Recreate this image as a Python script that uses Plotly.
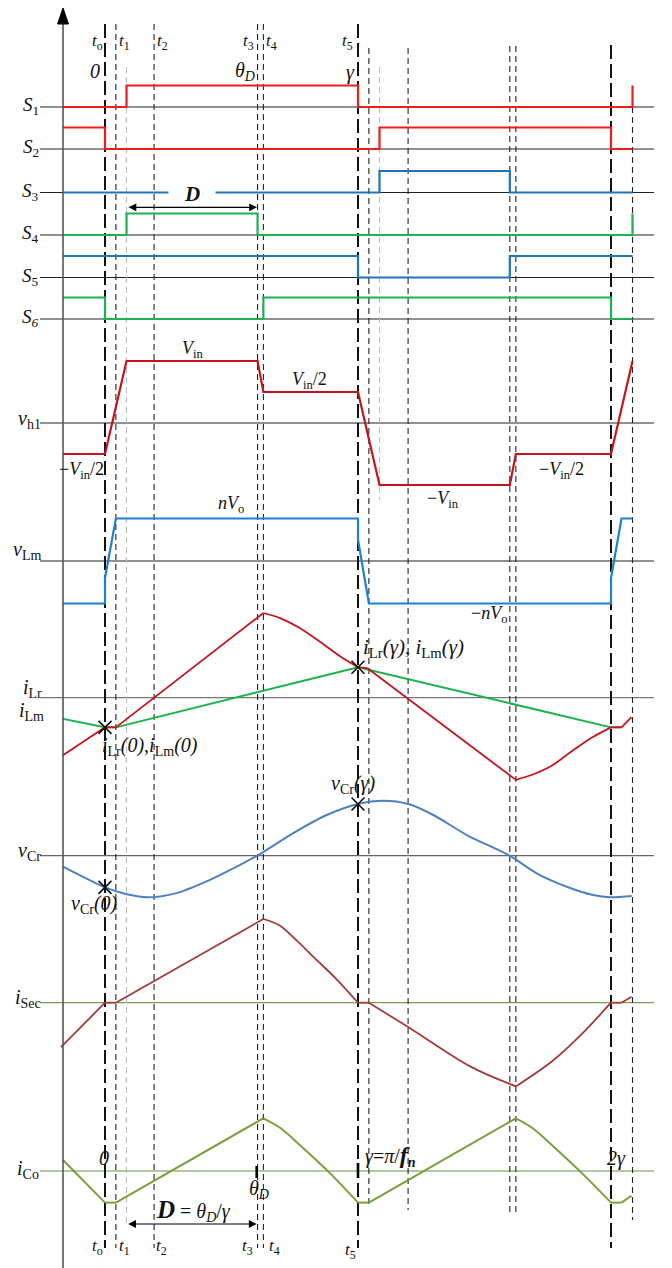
import plotly.graph_objects as go

# ---------------- time instants (angle normalised by gamma, t0 = 0, t5 = gamma) ----------------
T_AXIS = -0.166
t0, t1, t1g, t2, t3, t4, t5 = 0.0, 0.043, 0.085, 0.194, 0.603, 0.626, 1.0
t6, t6g, t7, t8, t9, t10, t10b, t11 = 1.043, 1.085, 1.198, 1.600, 1.624, 2.0, 2.0415, 2.085

# ---------------- gate signals (0 = off, 1 = on) ----------------
S1_t = [T_AXIS, t1g, t1g, t5, t5, t11, t11]
S1_v = [0, 0, 1, 1, 0, 0, 1]
S2_t = [T_AXIS, t0, t0, t6g, t6g, t10, t10, t11]
S2_v = [1, 1, 0, 0, 1, 1, 0, 0]
S3_t = [T_AXIS, t6g, t6g, t8, t8, t11]
S3_v = [0, 0, 1, 1, 0, 0]
S4_t = [T_AXIS, t1g, t1g, t3, t3, t11, t11]
S4_v = [0, 0, 1, 1, 0, 0, 1]
S5_t = [T_AXIS, t5, t5, t8, t8, t11]
S5_v = [1, 1, 0, 0, 1, 1]
S6_t = [T_AXIS, t0, t0, t4, t4, t10, t10, t11]
S6_v = [1, 1, 0, 0, 1, 1, 0, 0]

# ---------------- voltages (per unit of Vin and nVo) ----------------
vh1_t = [T_AXIS, t0, t1g, t3, t4, t5, t6g, t8, t9, t10, t11]
vh1_v = [-0.5, -0.5, 1, 1, 0.5, 0.5, -1, -1, -0.5, -0.5, 1]
vLm_t = [T_AXIS, t0, t0, t1, t5, t5, t6, t10, t10, t10b, t11]
vLm_v = [-1, -1, -0.4, 1, 1, 0.5, -1, -1, -0.4, 1, 1]

# ---------------- currents / resonant voltage (per unit of own peak) ----------------
iLr_t = [T_AXIS, t0, t1, t4, 0.692, 0.771, 0.850, 0.929, t5, 1.036, t9, 1.688, 1.767, 1.846, 1.925, t10, t10b, 2.081]
iLr_v = [-0.68, -0.35, -0.35, 1.0, 0.94, 0.82, 0.66, 0.49, 0.36, 0.35, -0.97, -0.91, -0.80, -0.63, -0.47, -0.35, -0.35, -0.23]
iLm_t = [T_AXIS, t0, t1, t5, t10, t10b]
iLm_v = [-0.25, -0.35, -0.35, 0.36, -0.35, -0.35]

vCr_t = [T_AXIS, t0, 0.086, 0.170, 0.283, 0.415, 0.520, 0.606, 0.744, 0.876, t5, 1.100, 1.199, 1.298, 1.430, 1.601, 1.706, 1.825, 1.930, 1.996, 2.082]
vCr_v = [-0.20, -0.575, -0.70, -0.756, -0.68, -0.44, -0.20, 0.01, 0.41, 0.74, 0.94, 1.0, 0.94, 0.74, 0.376, -0.005, -0.32, -0.564, -0.715, -0.756, -0.733]

iSec_t = [-0.174, t0, t1, t4, 0.692, 0.755, 0.830, 0.909, t5, t6, t7, 1.449, t9, 1.771, 1.889, t10, t10b, 2.081]
iSec_v = [-0.53, 0, 0, 1.0, 0.92, 0.75, 0.53, 0.30, 0, 0, -0.29, -0.77, -1.0, -0.69, -0.36, 0, 0, 0.07]

iCo_t = [T_AXIS, t0, t1, t4, 0.692, 0.771, 0.889, t5, t6, t9, 1.688, 1.767, 1.885, t10, t10b, 2.081]
iCo_v = [0.21, -0.60, -0.60, 1.0, 0.82, 0.49, -0.04, -0.60, -0.60, 1.0, 0.82, 0.49, -0.04, -0.60, -0.60, -0.47]

# switching instants where the current waveforms have corners
CORNERS = [t0, t1, t4, t5, 1.036, t6, t9, t10, t10b]

# ---------------- page layout ----------------
PAGE_W, PAGE_H = 672, 1268
OFF = 8                                  # default body margin of the html page
FIG_W, FIG_H = PAGE_W - 2 * OFF, PAGE_H - OFF
PX0, PXG = 105.0, 253.0                  # page position of t0 and page width of gamma


def X(px):
    return (px - PX0) / PXG


ROWS = {
    "S1": (107, 21.5), "S2": (149, 21.5), "S3": (192.5, 21.5), "S4": (235, 21.5),
    "S5": (277.5, 21.5), "S6": (319, 21.5),
    "vh1": (423, 62), "vLm": (561, 42.5), "iL": (697.7, 84.7),
    "vCr": (855.7, 55), "iSec": (1002.7, 83.7), "iCo": (1171, 52.7),
}


def ry(row, vals):
    b, g = ROWS[row]
    return [b - g * v for v in vals]


RED, BLUE, GREEN = "#f01c1c", "#1f73bf", "#1fb04f"
DRED, LBLUE, VBLUE, LGREEN = "#c3141c", "#1f80d2", "#4f80c0", "#19b14c"
BROWN, OLIVE = "#a33b36", "#78a03c"

fig = go.Figure()


def add(t, y, color, w=2.0):
    fig.add_trace(go.Scatter(x=t, y=y, mode="lines", line=dict(color=color, width=w),
                             hoverinfo="skip", showlegend=False))


def add_smooth(t, y, color, w=1.9):
    """draw piecewise: split at the corner instants, smooth each piece"""
    cut = [0] + [i for i, tt in enumerate(t) if tt in CORNERS and 0 < i < len(t) - 1] + [len(t) - 1]
    for a, b in zip(cut[:-1], cut[1:]):
        fig.add_trace(go.Scatter(x=t[a:b + 1], y=y[a:b + 1], mode="lines",
                                 line=dict(color=color, width=w, shape="spline", smoothing=0.9),
                                 hoverinfo="skip", showlegend=False))


add(S1_t, ry("S1", S1_v), RED, 2.2)
add(S2_t, ry("S2", S2_v), RED, 2.2)
add(S3_t, ry("S3", S3_v), BLUE, 2.2)
add(S4_t, ry("S4", S4_v), GREEN, 2.2)
add(S5_t, ry("S5", S5_v), BLUE, 2.2)
add(S6_t, ry("S6", S6_v), GREEN, 2.2)
add(vh1_t, ry("vh1", vh1_v), DRED, 2.2)
add(vLm_t, ry("vLm", vLm_v), LBLUE, 2.2)
add(iLm_t, ry("iL", iLm_v), LGREEN, 2.0)
add_smooth(iLr_t, ry("iL", iLr_v), DRED, 1.8)
fig.add_trace(go.Scatter(x=vCr_t, y=ry("vCr", vCr_v), mode="lines",
                         line=dict(color=VBLUE, width=2.0, shape="spline", smoothing=0.8),
                         hoverinfo="skip", showlegend=False))
add_smooth(iSec_t, ry("iSec", iSec_v), BROWN, 1.8)
add_smooth(iCo_t, ry("iCo", iCo_v), OLIVE, 2.0)

# crossing markers taken from the curves at t0 and gamma
cx = [t0, t5, t5, t0]
cy = [ry("iL", [iLr_v[iLr_t.index(t0)]])[0], ry("iL", [iLr_v[iLr_t.index(t5)]])[0],
      ry("vCr", [vCr_v[vCr_t.index(t5)]])[0], ry("vCr", [vCr_v[vCr_t.index(t0)]])[0]]
fig.add_trace(go.Scatter(x=cx, y=cy, mode="markers",
                         marker=dict(symbol="x-thin", size=13, line=dict(color="#111", width=1.6)),
                         hoverinfo="skip", showlegend=False))

shapes = []
# baselines
BASE_COL = {"iL": "#777777", "vCr": "#666666", "iSec": "#7a9a5a", "iCo": "#6e8b4e"}
for k, (b, g) in ROWS.items():
    shapes.append(dict(type="line", xref="x", yref="y", x0=X(40), x1=X(654), y0=b, y1=b,
                       line=dict(color=BASE_COL.get(k, "#222222"), width=1.2), layer="below"))

# vertical dashed time markers: (t, top, bottom, style)
LONG = dict(color="#111", width=2.0, dash="14px,5px")
SHORT = dict(color="#222", width=1.1, dash="6px,4px")
GRAY = dict(color="#bdbdbd", width=1.1, dash="6px,4px")
vlines = [(t0, 24, 1248, LONG), (t1, 24, 1248, SHORT), (t1g, 67, 1227, GRAY), (t2, 24, 1248, SHORT),
          (t3, 24, 1248, SHORT), (t4, 24, 1248, SHORT), (t5, 24, 1248, LONG), (t6, 48, 1208, SHORT),
          (t6g, 67, 500, GRAY), (t7, 48, 1210, SHORT), (t8, 46, 1215, SHORT), (t9, 46, 1215, SHORT),
          (t10, 45, 1248, LONG), (t11, 107, 1220, SHORT)]
for t, a, b, st in vlines:
    shapes.append(dict(type="line", xref="x", yref="y", x0=t, x1=t, y0=a, y1=b, line=st, layer="below"))

# vertical axis with arrow head
shapes.append(dict(type="line", xref="x", yref="y", x0=T_AXIS, x1=T_AXIS, y0=20, y1=PAGE_H,
                   line=dict(color="#555555", width=1.6)))
shapes.append(dict(type="path", xref="x", yref="y",
                   path=f"M {T_AXIS} 8 L {X(57.5)} 24 L {X(68.5)} 24 Z",
                   fillcolor="#000", line=dict(color="#000", width=1)))
# tick marks on i_Co baseline at theta_D and gamma
for t, a in [(X(256.7), 1166), (t5, 1163)]:
    shapes.append(dict(type="line", xref="x", yref="y", x0=t, x1=t, y0=a, y1=1178,
                       line=dict(color="#000", width=2.6)))

FONT = "Liberation Serif, Times New Roman, serif"
anns = []


def ann(px, py, text, size=18, xa="center", ya="middle", **kw):
    d = dict(x=X(px), y=py, xref="x", yref="y", text=text, showarrow=False, xanchor=xa, yanchor=ya,
             font=dict(family=FONT, size=size, color="#111"))
    d.update(kw)
    anns.append(d)


# row labels
for i, k in enumerate(["S1", "S2", "S3", "S4", "S5", "S6"]):
    ann(41, ROWS[k][0] - 1, f"<i>S</i><sub>{i + 1}</sub>" if i < 5 else "<i>S</i><sub><i>6</i></sub>", 19, xa="right")
ann(43, 419, "<i>v</i><sub>h1</sub>", 20, xa="right")
ann(43, 550, "<i>v</i><sub>Lm</sub>", 20, xa="right")
ann(44, 688, "<i>i</i><sub>Lr</sub>", 20, xa="right")
ann(46, 711, "<i>i</i><sub>Lm</sub>", 20, xa="right")
ann(43, 851, "<i>v</i><sub>Cr</sub>", 20, xa="right")
ann(43, 998, "<i>i</i><sub>Sec</sub>", 20, xa="right")
ann(41, 1169, "<i>i</i><sub>Co</sub>", 20, xa="right")

# time labels top and bottom
for px, txt in [(97, "o"), (124, "1"), (162, "2"), (248, "3"), (271, "4"), (347, "5")]:
    ann(px, 42, f"<i>t</i><sub>{txt}</sub>", 17)
for px, py, txt in [(97, 1247, "o"), (124, 1247, "1"), (161, 1247, "2"), (247, 1247, "3"),
                    (274, 1247, "4"), (350, 1251, "5")]:
    ann(px, py, f"<i>t</i><sub>{txt}</sub>", 17)
ann(95, 71, "<i>0</i>", 20)
ann(245, 71, "<i>θ<sub>D</sub></i>", 20)
ann(350, 72, "<i>γ</i>", 20)

# level labels
ann(192, 349, "<i>V</i><sub>in</sub>", 18)
ann(309, 380, "<i>V</i><sub>in</sub>/2", 18)
ann(81, 470, "−<i>V</i><sub>in</sub>/2", 18)
ann(561, 470, "−<i>V</i><sub>in</sub>/2", 18)
ann(443, 499, "−<i>V</i><sub>in</sub>", 18)
ann(231, 504, "<i>nV</i><sub>o</sub>", 18)
ann(489, 614, "−<i>nV</i><sub>o</sub>", 18)
ann(100, 746, "<i>i</i><sub>Lr</sub><i>(0)</i>,<i>i</i><sub>Lm</sub><i>(0)</i>", 20, xa="left")
ann(361, 648, "<i>i</i><sub>Lr</sub><i>(γ)</i>, <i>i</i><sub>Lm</sub><i>(γ)</i>", 21, xa="left")
ann(353, 784, "<i>v</i><sub>Cr</sub><i>(γ)</i>", 20)
ann(94, 904, "<i>v</i><sub>Cr</sub><i>(0)</i>", 20)

# bottom angle labels
ann(104, 1158, "<i>0</i>", 20)
ann(390, 1156, "<i>γ</i>=<i>π</i>/<b><i><span style='font-size:24px'>f</span><sub>n</sub></i></b>", 20)
ann(616, 1158, "<i>2γ</i>", 20)
ann(259, 1189, "<i>θ<sub>D</sub></i>", 20)
ann(193, 1210, "<b><i><span style='font-size:25px'>D</span></i></b> = <i>θ<sub>D</sub></i>/<i>γ</i>", 20)

# "D" on the S3 row (with gap in the waveform)
ann(192, 194, "<b><i>D</i></b>", 21, bgcolor="white", width=44, height=18)

# double-headed arrows for D
for py, x_a, x_b in [(207.3, 127, 257), (1224, 126.7, 256.7)]:
    anns.append(dict(x=X(x_b), y=py, ax=X(x_a), ay=py, xref="x", yref="y", axref="x", ayref="y",
                     text="", showarrow=True, arrowhead=2, arrowside="end+start", arrowsize=1.3,
                     arrowwidth=1.2, arrowcolor="#000"))

fig.update_layout(
    width=FIG_W, height=FIG_H, margin=dict(l=0, r=0, t=0, b=0),
    paper_bgcolor="white", plot_bgcolor="white",
    xaxis=dict(range=[X(OFF), X(OFF + FIG_W)], visible=False, fixedrange=True),
    yaxis=dict(range=[OFF + FIG_H, OFF], visible=False, fixedrange=True),
    shapes=shapes, annotations=anns, showlegend=False,
)
fig.write_html("out.html")
